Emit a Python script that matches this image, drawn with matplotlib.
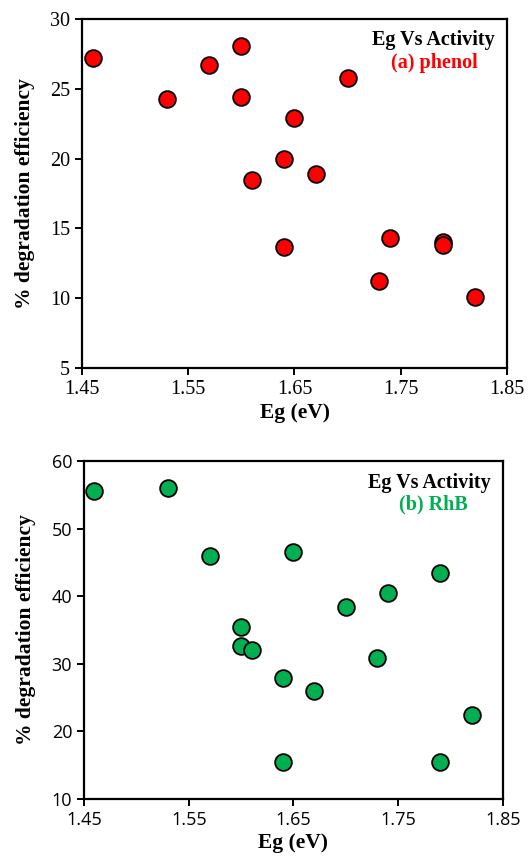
import numpy as np
import matplotlib
matplotlib.use("Agg")
import matplotlib.pyplot as plt

# data
eg_phenol = [1.46, 1.53, 1.57, 1.60, 1.60, 1.65, 1.64, 1.61, 1.67, 1.70, 1.64, 1.74, 1.79, 1.79, 1.73, 1.82]
phenol = [27.2, 24.3, 26.7, 28.1, 24.4, 22.9, 20.0, 18.5, 18.9, 25.8, 13.7, 14.3, 14.0, 13.8, 11.2, 10.1]

eg_rhb = [1.46, 1.53, 1.57, 1.65, 1.79, 1.74, 1.70, 1.60, 1.60, 1.61, 1.73, 1.64, 1.67, 1.82, 1.64, 1.79]
rhb = [55.6, 56.0, 46.0, 46.5, 43.4, 40.4, 38.4, 35.5, 32.7, 32.0, 30.8, 27.9, 26.0, 22.5, 15.4, 15.4]

xticks = [1.45, 1.55, 1.65, 1.75, 1.85]

fig = plt.figure(figsize=(5.31, 8.56), dpi=100)
W, H = 531, 856
ax1 = fig.add_axes([82 / W, 1 - 368 / H, (507 - 82) / W, (368 - 19) / H])
ax2 = fig.add_axes([84 / W, 1 - 799 / H, (503 - 84) / W, (799 - 461) / H])

serif = "Liberation Serif"
lbl = dict(family=serif, fontweight="bold", fontsize=15.5)


def style(ax, tickfont, ticksize):
    for s in ax.spines.values():
        s.set_linewidth(1.6)
        s.set_color("black")
    ax.tick_params(direction="out", length=5, width=1.4, top=False, right=False,
                   labelsize=ticksize)
    for t in ax.get_xticklabels() + ax.get_yticklabels():
        t.set_family(tickfont)
    ax.set_xlabel("Eg (eV)", labelpad=3, **lbl)
    ax.set_ylabel("% degradation efficiency", labelpad=11, **lbl)


ax1.scatter(eg_phenol, phenol, s=145, c="#FF0000", edgecolors="black", linewidths=1.3, zorder=3)
ax1.set_xlim(1.45, 1.85)
ax1.set_ylim(5, 30)
ax1.set_xticks(xticks)
ax1.set_xticklabels(["1.45", "1.55", "1.65", "1.75", "1.85"])
ax1.set_yticks(range(5, 31, 5))
style(ax1, serif, 14.5)
ax1.text(0.97, 0.94, "Eg Vs Activity", transform=ax1.transAxes, ha="right", va="center",
         family=serif, fontweight="bold", fontsize=14.5)
ax1.text(0.83, 0.875, "(a) phenol", transform=ax1.transAxes, ha="center", va="center",
         family=serif, fontweight="bold", fontsize=14.5, color="#FF0000")

ax2.scatter(eg_rhb, rhb, s=145, c="#00B050", edgecolors="black", linewidths=1.3, zorder=3)
ax2.set_xlim(1.45, 1.85)
ax2.set_ylim(10, 60)
ax2.set_xticks(xticks)
ax2.set_xticklabels(["1.45", "1.55", "1.65", "1.75", "1.85"])
ax2.set_yticks(range(10, 61, 10))
style(ax2, "Open Sans", 13)
ax2.text(0.97, 0.935, "Eg Vs Activity", transform=ax2.transAxes, ha="right", va="center",
         family=serif, fontweight="bold", fontsize=14.5)
ax2.text(0.835, 0.87, "(b) RhB", transform=ax2.transAxes, ha="center", va="center",
         family=serif, fontweight="bold", fontsize=14.5, color="#00B050")

fig.savefig("out.png", dpi=100)
